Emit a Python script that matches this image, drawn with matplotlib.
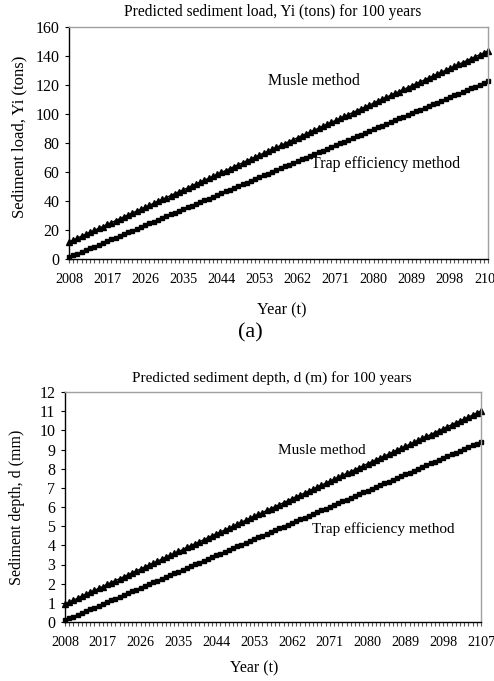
import matplotlib
matplotlib.use("Agg")
import matplotlib.pyplot as plt
from matplotlib.ticker import MultipleLocator, FixedLocator

years = list(range(2008, 2108))
tick_years = [2008, 2017, 2026, 2035, 2044, 2053, 2062, 2071, 2080, 2089, 2098, 2107]

musle_load = [11.8, 13.1, 14.5, 15.8, 17.1, 18.5, 19.8, 21.1, 22.4, 23.8,
              25.1, 26.4, 27.8, 29.1, 30.4, 31.8, 33.1, 34.4, 35.7, 37.1,
              38.4, 39.7, 41.1, 42.4, 43.7, 45.1, 46.4, 47.7, 49.0, 50.4,
              51.7, 53.0, 54.4, 55.7, 57.0, 58.4, 59.7, 61.0, 62.3, 63.7,
              65.0, 66.3, 67.7, 69.0, 70.3, 71.7, 73.0, 74.3, 75.6, 77.0,
              78.3, 79.6, 81.0, 82.3, 83.6, 85.0, 86.3, 87.6, 88.9, 90.3,
              91.6, 92.9, 94.3, 95.6, 96.9, 98.3, 99.6, 100.9, 102.2, 103.6,
              104.9, 106.2, 107.6, 108.9, 110.2, 111.6, 112.9, 114.2, 115.5, 116.9,
              118.2, 119.5, 120.9, 122.2, 123.5, 124.9, 126.2, 127.5, 128.8, 130.2,
              131.5, 132.8, 134.2, 135.5, 136.8, 138.2, 139.5, 140.8, 142.1, 143.5]

trap_load = [1.2, 2.5, 3.7, 4.9, 6.1, 7.4, 8.6, 9.8, 11.0, 12.3,
             13.5, 14.7, 15.9, 17.2, 18.4, 19.6, 20.8, 22.1, 23.3, 24.5,
             25.7, 27.0, 28.2, 29.4, 30.7, 31.9, 33.1, 34.3, 35.6, 36.8,
             38.0, 39.2, 40.5, 41.7, 42.9, 44.1, 45.4, 46.6, 47.8, 49.0,
             50.3, 51.5, 52.7, 53.9, 55.2, 56.4, 57.6, 58.8, 60.1, 61.3,
             62.5, 63.8, 65.0, 66.2, 67.4, 68.7, 69.9, 71.1, 72.3, 73.6,
             74.8, 76.0, 77.2, 78.5, 79.7, 80.9, 82.1, 83.4, 84.6, 85.8,
             87.0, 88.3, 89.5, 90.7, 92.0, 93.2, 94.4, 95.6, 96.9, 98.1,
             99.3, 100.5, 101.8, 103.0, 104.2, 105.4, 106.7, 107.9, 109.1, 110.3,
             111.6, 112.8, 114.0, 115.2, 116.5, 117.7, 118.9, 120.1, 121.4, 122.6]

musle_depth = [0.94, 1.04, 1.14, 1.24, 1.35, 1.45, 1.55, 1.65, 1.75, 1.85,
               1.96, 2.06, 2.16, 2.26, 2.36, 2.46, 2.57, 2.67, 2.77, 2.87,
               2.97, 3.07, 3.17, 3.28, 3.38, 3.48, 3.58, 3.68, 3.78, 3.89,
               3.99, 4.09, 4.19, 4.29, 4.39, 4.50, 4.60, 4.70, 4.80, 4.90,
               5.00, 5.10, 5.21, 5.31, 5.41, 5.51, 5.61, 5.71, 5.82, 5.92,
               6.02, 6.12, 6.22, 6.32, 6.43, 6.53, 6.63, 6.73, 6.83, 6.93,
               7.04, 7.14, 7.24, 7.34, 7.44, 7.54, 7.65, 7.75, 7.85, 7.95,
               8.05, 8.15, 8.26, 8.36, 8.46, 8.56, 8.66, 8.76, 8.86, 8.97,
               9.07, 9.17, 9.27, 9.37, 9.47, 9.58, 9.68, 9.78, 9.88, 9.98,
               10.08, 10.19, 10.29, 10.39, 10.49, 10.59, 10.69, 10.80, 10.90, 11.00]

trap_depth = [0.09, 0.19, 0.28, 0.38, 0.47, 0.56, 0.66, 0.75, 0.85, 0.94,
              1.03, 1.13, 1.22, 1.32, 1.41, 1.50, 1.60, 1.69, 1.79, 1.88,
              1.97, 2.07, 2.16, 2.26, 2.35, 2.44, 2.54, 2.63, 2.73, 2.82,
              2.91, 3.01, 3.10, 3.20, 3.29, 3.38, 3.48, 3.57, 3.67, 3.76,
              3.85, 3.95, 4.04, 4.14, 4.23, 4.32, 4.42, 4.51, 4.61, 4.70,
              4.79, 4.89, 4.98, 5.08, 5.17, 5.26, 5.36, 5.45, 5.55, 5.64,
              5.73, 5.83, 5.92, 6.02, 6.11, 6.20, 6.30, 6.39, 6.49, 6.58,
              6.67, 6.77, 6.86, 6.96, 7.05, 7.14, 7.24, 7.33, 7.43, 7.52,
              7.61, 7.71, 7.80, 7.90, 7.99, 8.08, 8.18, 8.27, 8.37, 8.46,
              8.55, 8.65, 8.74, 8.84, 8.93, 9.02, 9.12, 9.21, 9.31, 9.40]

plt.rcParams['font.family'] = ['Liberation Serif', 'DejaVu Serif']

W, H = 494, 681
fig = plt.figure(figsize=(W / 100, H / 100), dpi=100)


def rect(x0, y0, x1, y1):
    return [x0 / W, 1 - y1 / H, (x1 - x0) / W, (y1 - y0) / H]


def ftext(x, y, s, **kw):
    fig.text(x / W, 1 - y / H, s, ha='center', va='center', **kw)


def style(ax, ymax, ystep, xfs, yfs):
    ax.set_xlim(0, len(years) - 1)
    ax.set_ylim(0, ymax)
    ax.yaxis.set_major_locator(MultipleLocator(ystep))
    ticks = [years.index(y) for y in tick_years]
    ax.xaxis.set_major_locator(FixedLocator(ticks))
    ax.set_xticklabels([str(y) for y in tick_years])
    ax.xaxis.set_minor_locator(FixedLocator(range(len(years))))
    ax.tick_params(axis='x', which='both', direction='out', length=3, width=0.8,
                   pad=7, labelsize=xfs, color='#555555')
    ax.tick_params(axis='y', which='major', direction='out', length=3, width=0.8,
                   pad=4, labelsize=yfs)
    for s in ('top', 'right'):
        ax.spines[s].set_color('#a0a0a0')
        ax.spines[s].set_linewidth(1.0)
    for s in ('left', 'bottom'):
        ax.spines[s].set_color('black')
        ax.spines[s].set_linewidth(1.0)
    for lab in ax.get_xticklabels() + ax.get_yticklabels():
        lab.set_clip_on(False)


x = list(range(len(years)))

# Panel (a)
ax1 = fig.add_axes(rect(69, 27, 488, 259))
ax1.plot(x, musle_load, color='black', lw=1.0, marker='^', ms=4.5, clip_on=False)
ax1.plot(x, trap_load, color='black', lw=1.0, marker='s', ms=2.8, clip_on=False)
style(ax1, 160, 20, 10.2, 11.5)
ftext(314, 81, 'Musle method', fontsize=11.5)
ftext(386, 164, 'Trap efficiency method', fontsize=11.5)
ftext(273, 12, 'Predicted sediment load, Yi (tons) for 100 years', fontsize=11.2)
ftext(19, 137, 'Sediment load, Yi (tons)', rotation=90, fontsize=12)
ftext(282, 310, 'Year (t)', fontsize=11.7)
ftext(250, 333, '(a)', fontsize=16)

# Panel (b)
ax2 = fig.add_axes(rect(65, 392, 481, 622))
ax2.plot(x, musle_depth, color='black', lw=1.0, marker='^', ms=4.5, clip_on=False)
ax2.plot(x, trap_depth, color='black', lw=1.0, marker='s', ms=2.8, clip_on=False)
style(ax2, 12, 1, 10.2, 11.5)
ftext(322, 450, 'Musle method', fontsize=11)
ftext(383, 529, 'Trap efficiency method', fontsize=11)
ftext(272, 378, 'Predicted sediment depth, d (m) for 100 years', fontsize=11)
ftext(17, 507, 'Sediment depth, d (mm)', rotation=90, fontsize=11.5)
ftext(254, 668, 'Year (t)', fontsize=11.5)

fig.savefig('out.png', dpi=100)
